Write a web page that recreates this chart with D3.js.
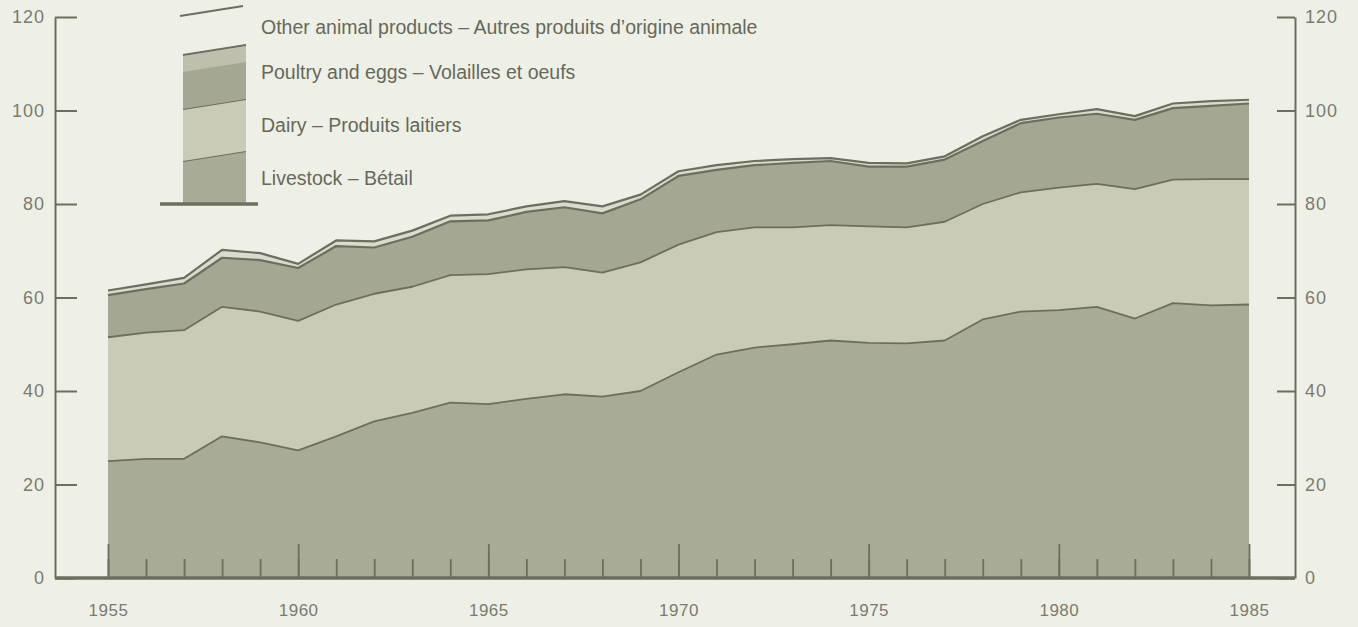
<!DOCTYPE html>
<html>
<head>
<meta charset="utf-8">
<script src="https://cdn.jsdelivr.net/npm/d3@7"></script>
<style>
  body { margin: 0; background: #eef0e7; }
  svg { display: block; }
  text { font-family: "Liberation Sans", Arial, sans-serif; }
</style>
</head>
<body>
<svg width="1358" height="627"></svg>
<script>
// data (index values)
var years = d3.range(1955, 1986);
var livestock = [25, 25.5, 25.5, 30.3, 29, 27.3, 30.3, 33.5, 35.3, 37.5, 37.2, 38.3, 39.3, 38.8, 40, 44,
  47.8, 49.3, 50, 50.8, 50.3, 50.2, 50.8, 55.3, 57, 57.3, 58, 55.5, 58.8, 58.3, 58.5];
var dairy = [26.5, 27, 27.5, 27.7, 28, 27.7, 28.2, 27.3, 27, 27.3, 27.8, 27.7, 27.2, 26.5, 27.5, 27.3,
  26.2, 25.7, 25, 24.7, 24.9, 24.8, 25.4, 24.7, 25.5, 26.2, 26.3, 27.7, 26.4, 27, 26.8];
var poultry = [9, 9.3, 10, 10.5, 11, 11.3, 12.5, 9.9, 10.7, 11.5, 11.5, 12.3, 12.8, 12.7, 13.5, 14.7,
  13.3, 13.3, 13.8, 13.7, 12.8, 13, 13.3, 13.5, 14.8, 15, 15, 14.8, 15.3, 15.7, 16.2];
var other = [1, 1, 1.2, 1.7, 1.5, 0.9, 1.2, 1.3, 1.3, 1.2, 1.3, 1.2, 1.3, 1.5, 1, 1,
  1, 0.9, 0.8, 0.6, 0.8, 0.7, 0.7, 1, 0.7, 0.7, 1, 0.8, 1, 1, 0.8];

var keys = ["livestock", "dairy", "poultry", "other"];
var legendLabels = {
  other: "Other animal products \u2013 Autres produits d\u2019origine animale",
  poultry: "Poultry and eggs \u2013 Volailles et oeufs",
  dairy: "Dairy \u2013 Produits laitiers",
  livestock: "Livestock \u2013 B\u00e9tail"
};
var yTicks = [0, 20, 40, 60, 80, 100, 120];
var xLabelYears = [1955, 1960, 1965, 1970, 1975, 1980, 1985];

var colors = { livestock: "#a8ab96", dairy: "#c9cbb7", poultry: "#a4a792", other: "#d9dbcd" };
var ink = "#6c6f5e";

var rows = years.map(function(y, i) {
  return { year: y, livestock: livestock[i], dairy: dairy[i], poultry: poultry[i], other: other[i] };
});

var svg = d3.select("svg");

var x = d3.scaleLinear().domain([1955, 1985]).range([108, 1249]);
var y = d3.scaleLinear().domain([0, 120]).range([578, 17]);

var series = d3.stack().keys(keys)(rows);

var area = d3.area()
  .x(function(d) { return x(d.data.year); })
  .y0(function(d) { return y(d[0]); })
  .y1(function(d) { return y(d[1]); });

var topLine = d3.line()
  .x(function(d) { return x(d.data.year); })
  .y(function(d) { return y(d[1]); });

svg.append("g").selectAll("path")
  .data(series)
  .enter().append("path")
    .attr("fill", function(d) { return colors[d.key]; })
    .attr("d", area);

svg.append("g").selectAll("path")
  .data(series)
  .enter().append("path")
    .attr("fill", "none")
    .attr("stroke", ink)
    .attr("stroke-width", function(d) { return d.key == "other" || d.key == "poultry" ? 2.2 : 1.8; })
    .attr("stroke-linejoin", "round")
    .attr("d", topLine);

// year ticks, minor and major, pointing up from the base
svg.append("g")
  .attr("transform", "translate(0,578)")
  .call(d3.axisBottom(x).tickValues(years).tickSize(-19).tickFormat(""))
  .call(function(g) { g.select(".domain").remove(); });

var xAxis = svg.append("g")
  .attr("transform", "translate(0,578)")
  .call(d3.axisBottom(x).tickValues(xLabelYears).tickSizeInner(-34).tickSizeOuter(0)
    .tickPadding(26).tickFormat(d3.format("d")));
xAxis.select(".domain").remove();
xAxis.selectAll(".tick text").style("font-size", "17px").style("letter-spacing", "0.5px");

svg.selectAll(".tick line").attr("stroke", ink).attr("stroke-width", 1.8);

// left and right value axes, ticks inward
var yl = svg.append("g")
  .attr("transform", "translate(55,0)")
  .call(d3.axisLeft(y).tickValues(yTicks).tickSizeInner(-22).tickSizeOuter(0).tickPadding(10));
var yr = svg.append("g")
  .attr("transform", "translate(1295,0)")
  .call(d3.axisRight(y).tickValues(yTicks).tickSizeInner(-18).tickSizeOuter(0).tickPadding(10));

[yl, yr].forEach(function(g) {
  g.select(".domain").attr("stroke", ink).attr("stroke-width", 2);
  g.selectAll(".tick line").attr("stroke", ink).attr("stroke-width", 2);
  g.selectAll(".tick text").style("font-size", "18px").style("letter-spacing", "1px");
});

svg.selectAll(".tick text").attr("fill", "#7a7b6e");

// base line
svg.append("line")
  .attr("x1", 55).attr("x2", 1295)
  .attr("y1", y(0)).attr("y2", y(0))
  .attr("stroke", ink).attr("stroke-width", 3.5);

// legend: a small stacked swatch with the labels beside it
var lg = svg.append("g");
var sw = { x0: 183, x1: 246, base: 204, slope: -10 };
var swBands = [
  { key: "livestock", top: 161 },
  { key: "dairy", top: 109 },
  { key: "poultry", top: 55 }
];
swBands.forEach(function(b, i) {
  var bottom = i == 0 ? sw.base : swBands[i - 1].top;
  var bSlope = i == 0 ? 0 : sw.slope;
  lg.append("path")
    .attr("fill", colors[b.key])
    .attr("d", "M" + sw.x0 + "," + bottom + "L" + sw.x1 + "," + (bottom + bSlope) +
      "L" + sw.x1 + "," + (b.top + sw.slope) + "L" + sw.x0 + "," + b.top + "Z");
  lg.append("line")
    .attr("x1", sw.x0).attr("y1", b.top).attr("x2", sw.x1).attr("y2", b.top + sw.slope)
    .attr("stroke", ink).attr("stroke-width", 2);
});
lg.append("path")
  .attr("fill", "#c4c6b4")
  .attr("opacity", 0.8)
  .attr("d", "M183,56L246,46L246,62L183,72Z");
lg.append("line")
  .attr("x1", 180).attr("y1", 16).attr("x2", 243).attr("y2", 6)
  .attr("stroke", ink).attr("stroke-width", 1.8);
lg.append("line")
  .attr("x1", 160).attr("y1", sw.base).attr("x2", 258).attr("y2", sw.base)
  .attr("stroke", ink).attr("stroke-width", 3.5);

var legendY = { other: 27, poultry: 72, dairy: 125, livestock: 178 };
lg.selectAll("text")
  .data(["other", "poultry", "dairy", "livestock"])
  .enter().append("text")
    .attr("x", 261)
    .attr("y", function(d) { return legendY[d]; })
    .attr("dy", "0.35em")
    .attr("fill", "#66685a")
    .style("font-size", "19.5px")
    .text(function(d) { return legendLabels[d]; });
</script>
</body>
</html>
